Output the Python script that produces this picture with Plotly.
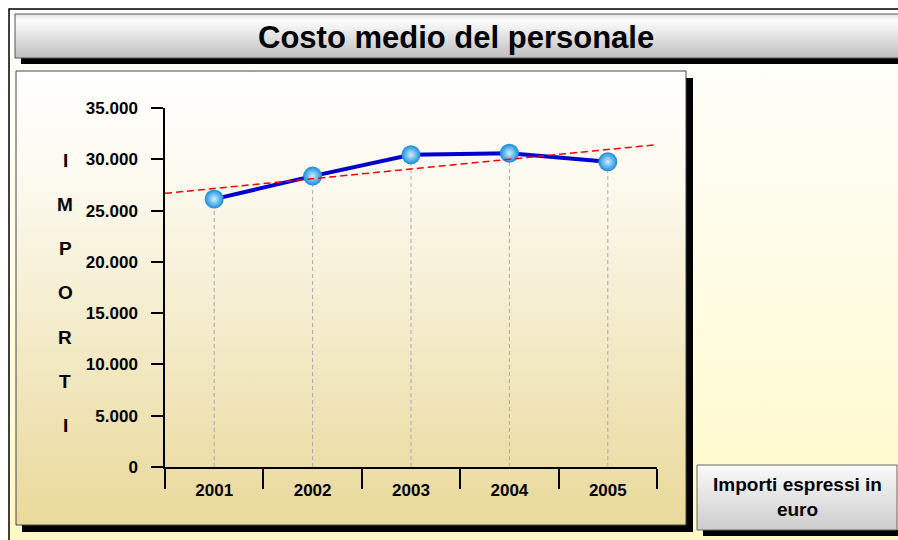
import base64
import numpy as np
import plotly.graph_objects as go

# data
years = ["2001", "2002", "2003", "2004", "2005"]
costo_medio = [26120, 28360, 30440, 30580, 29760]
y_ticks = [0, 5000, 10000, 15000, 20000, 25000, 30000, 35000]
titolo = "Costo medio del personale"
nota = "Importi espressi in<br>euro"
asse_y = "IMPORTI"

FONT = "Liberation Sans, Arial, sans-serif"
W, H = 898, 540
L, T = 165, 108
PW, PH = 492, 359
R, B = W - L - PW, H - T - PH


def fx(px):
    # screen pixel -> paper x
    return (px - L) / PW


def fy(py):
    return (T + PH - py) / PH


def gradient(stops):
    # vertical gradient as a small svg, stretched by plotly
    s = "".join(f"<stop offset='{o}' stop-color='{c}'/>" for o, c in stops)
    svg = ("<svg xmlns='http://www.w3.org/2000/svg' width='10' height='100' "
           "viewBox='0 0 10 100' preserveAspectRatio='none'><defs>"
           "<linearGradient id='g' x1='0' y1='0' x2='0' y2='1'>" + s +
           "</linearGradient></defs><rect width='10' height='100' fill='url(#g)'/></svg>")
    return "data:image/svg+xml;base64," + base64.b64encode(svg.encode()).decode()


def img(x0, y0, x1, y1, stops):
    return dict(source=gradient(stops), xref="paper", yref="paper",
                x=fx(x0), y=fy(y0), sizex=(x1 - x0) / PW, sizey=(y1 - y0) / PH,
                xanchor="left", yanchor="top", sizing="stretch", layer="below")


def rect(x0, y0, x1, y1, fill=None, line=None, lw=1):
    return dict(type="rect", xref="paper", yref="paper", layer="below",
                x0=fx(x0), x1=fx(x1), y0=fy(y0), y1=fy(y1),
                fillcolor=fill or "rgba(0,0,0,0)",
                line=dict(color=line or "rgba(0,0,0,0)", width=lw if line else 0))


def label(text, x, y, size):
    return dict(text=text, xref="paper", yref="paper", x=fx(x), y=fy(y),
                xanchor="center", yanchor="middle", showarrow=False,
                font=dict(family=FONT, size=size, color="black", weight="bold"))


xs = list(range(len(years)))

fig = go.Figure()

# dashed drop lines from each point to the axis
drop_x, drop_y = [], []
for i, v in zip(xs, costo_medio):
    drop_x += [i, i, None]
    drop_y += [0, v, None]
fig.add_trace(go.Scatter(x=drop_x, y=drop_y, mode="lines", hoverinfo="skip",
                         line=dict(color="#A8A8B8", width=1, dash="4px,3px"),
                         showlegend=False))

# main series
fig.add_trace(go.Scatter(
    x=xs, y=costo_medio, mode="lines+markers", showlegend=False,
    line=dict(color="#0000CD", width=4),
    marker=dict(size=19, color="#168BDE",
                gradient=dict(type="radial", color="#CFEFFF"),
                line=dict(width=0)),
))

# linear trend line (on the overlay axis that carries the year labels)
k, q = np.polyfit(xs, costo_medio, 1)
tx = [-0.5, len(years) - 0.5]
fig.add_trace(go.Scatter(x=tx, y=[k * t + q for t in tx], mode="lines",
                         xaxis="x2", yaxis="y",
                         line=dict(color="#FF0000", width=1.5, dash="7px,4px"),
                         hoverinfo="skip", showlegend=False))

shapes = [
    # outer frame
    rect(9, 9, 920, 560, line="black", lw=1.5),
    # title bar + shadow
    rect(21, 58, 920, 64, fill="black"),
    rect(15, 14, 920, 58, line="#555555", lw=1),
    # chart panel + shadow
    rect(686, 78, 693, 532, fill="black"),
    rect(22, 525, 693, 532, fill="black"),
    rect(16, 71, 686, 525, line="#444444", lw=1),
    # note box + shadow
    rect(703, 530, 920, 536, fill="black"),
    rect(697, 465, 897, 530, line="#666666", lw=1),
]

images = [
    img(9, 9, 898, 540, [(0, "#FFFFFF"), (0.3, "#FEFDF0"), (1, "#FFF9C6")]),
    img(15, 14, 898, 58, [(0, "#E4E4E4"), (0.15, "#FDFDFD"), (1, "#BEBEBE")]),
    img(16, 71, 686, 525, [(0, "#FFFFFF"), (0.25, "#FCF9EE"), (1, "#E9D99A")]),
    img(697, 465, 897, 530, [(0, "#FAFAFA"), (1, "#CDCDCD")]),
]

annotations = [label(titolo, 456, 37, 31), label(nota, 797, 497, 19)]
for i, ch in enumerate(asse_y):
    annotations.append(label(ch, 65, 160 + i * 44.3, 19))

fig.update_layout(
    width=W, height=H,
    margin=dict(l=L, r=R, t=T, b=B, autoexpand=False),
    paper_bgcolor="white",
    plot_bgcolor="rgba(0,0,0,0)",
    separators=",.",
    font=dict(family=FONT, color="black"),
    shapes=shapes, images=images, annotations=annotations,
    xaxis=dict(range=[-0.5, len(years) - 0.5],
               tickvals=[i - 0.5 for i in range(len(years) + 1)],
               showticklabels=False, ticks="outside", ticklen=20, tickwidth=1.5,
               tickcolor="black", showline=True, linecolor="black", linewidth=1.5,
               showgrid=False, zeroline=False, fixedrange=True),
    xaxis2=dict(overlaying="x", anchor="y", side="bottom",
                range=[-0.5, len(years) - 0.5], tickvals=xs, ticktext=years,
                ticks="outside", ticklen=8, tickcolor="rgba(0,0,0,0)",
                tickfont=dict(family=FONT, size=17, weight="bold"),
                showline=False, showgrid=False, zeroline=False, fixedrange=True),
    yaxis=dict(range=[0, 35000], tickvals=y_ticks, tickformat=",.0f",
               ticks="outside", ticklen=12, tickwidth=1.5, tickcolor="black",
               tickfont=dict(family=FONT, size=17, weight="bold"),
               ticklabelstandoff=10,
               showline=True, linecolor="black", linewidth=1.5,
               showgrid=False, zeroline=False, fixedrange=True),
)

# drop the default 8px page margin so the figure fills the window
fig.write_html("out.html", config={"displayModeBar": False},
               post_script="document.body.style.margin='0';document.body.style.overflow='hidden';")
